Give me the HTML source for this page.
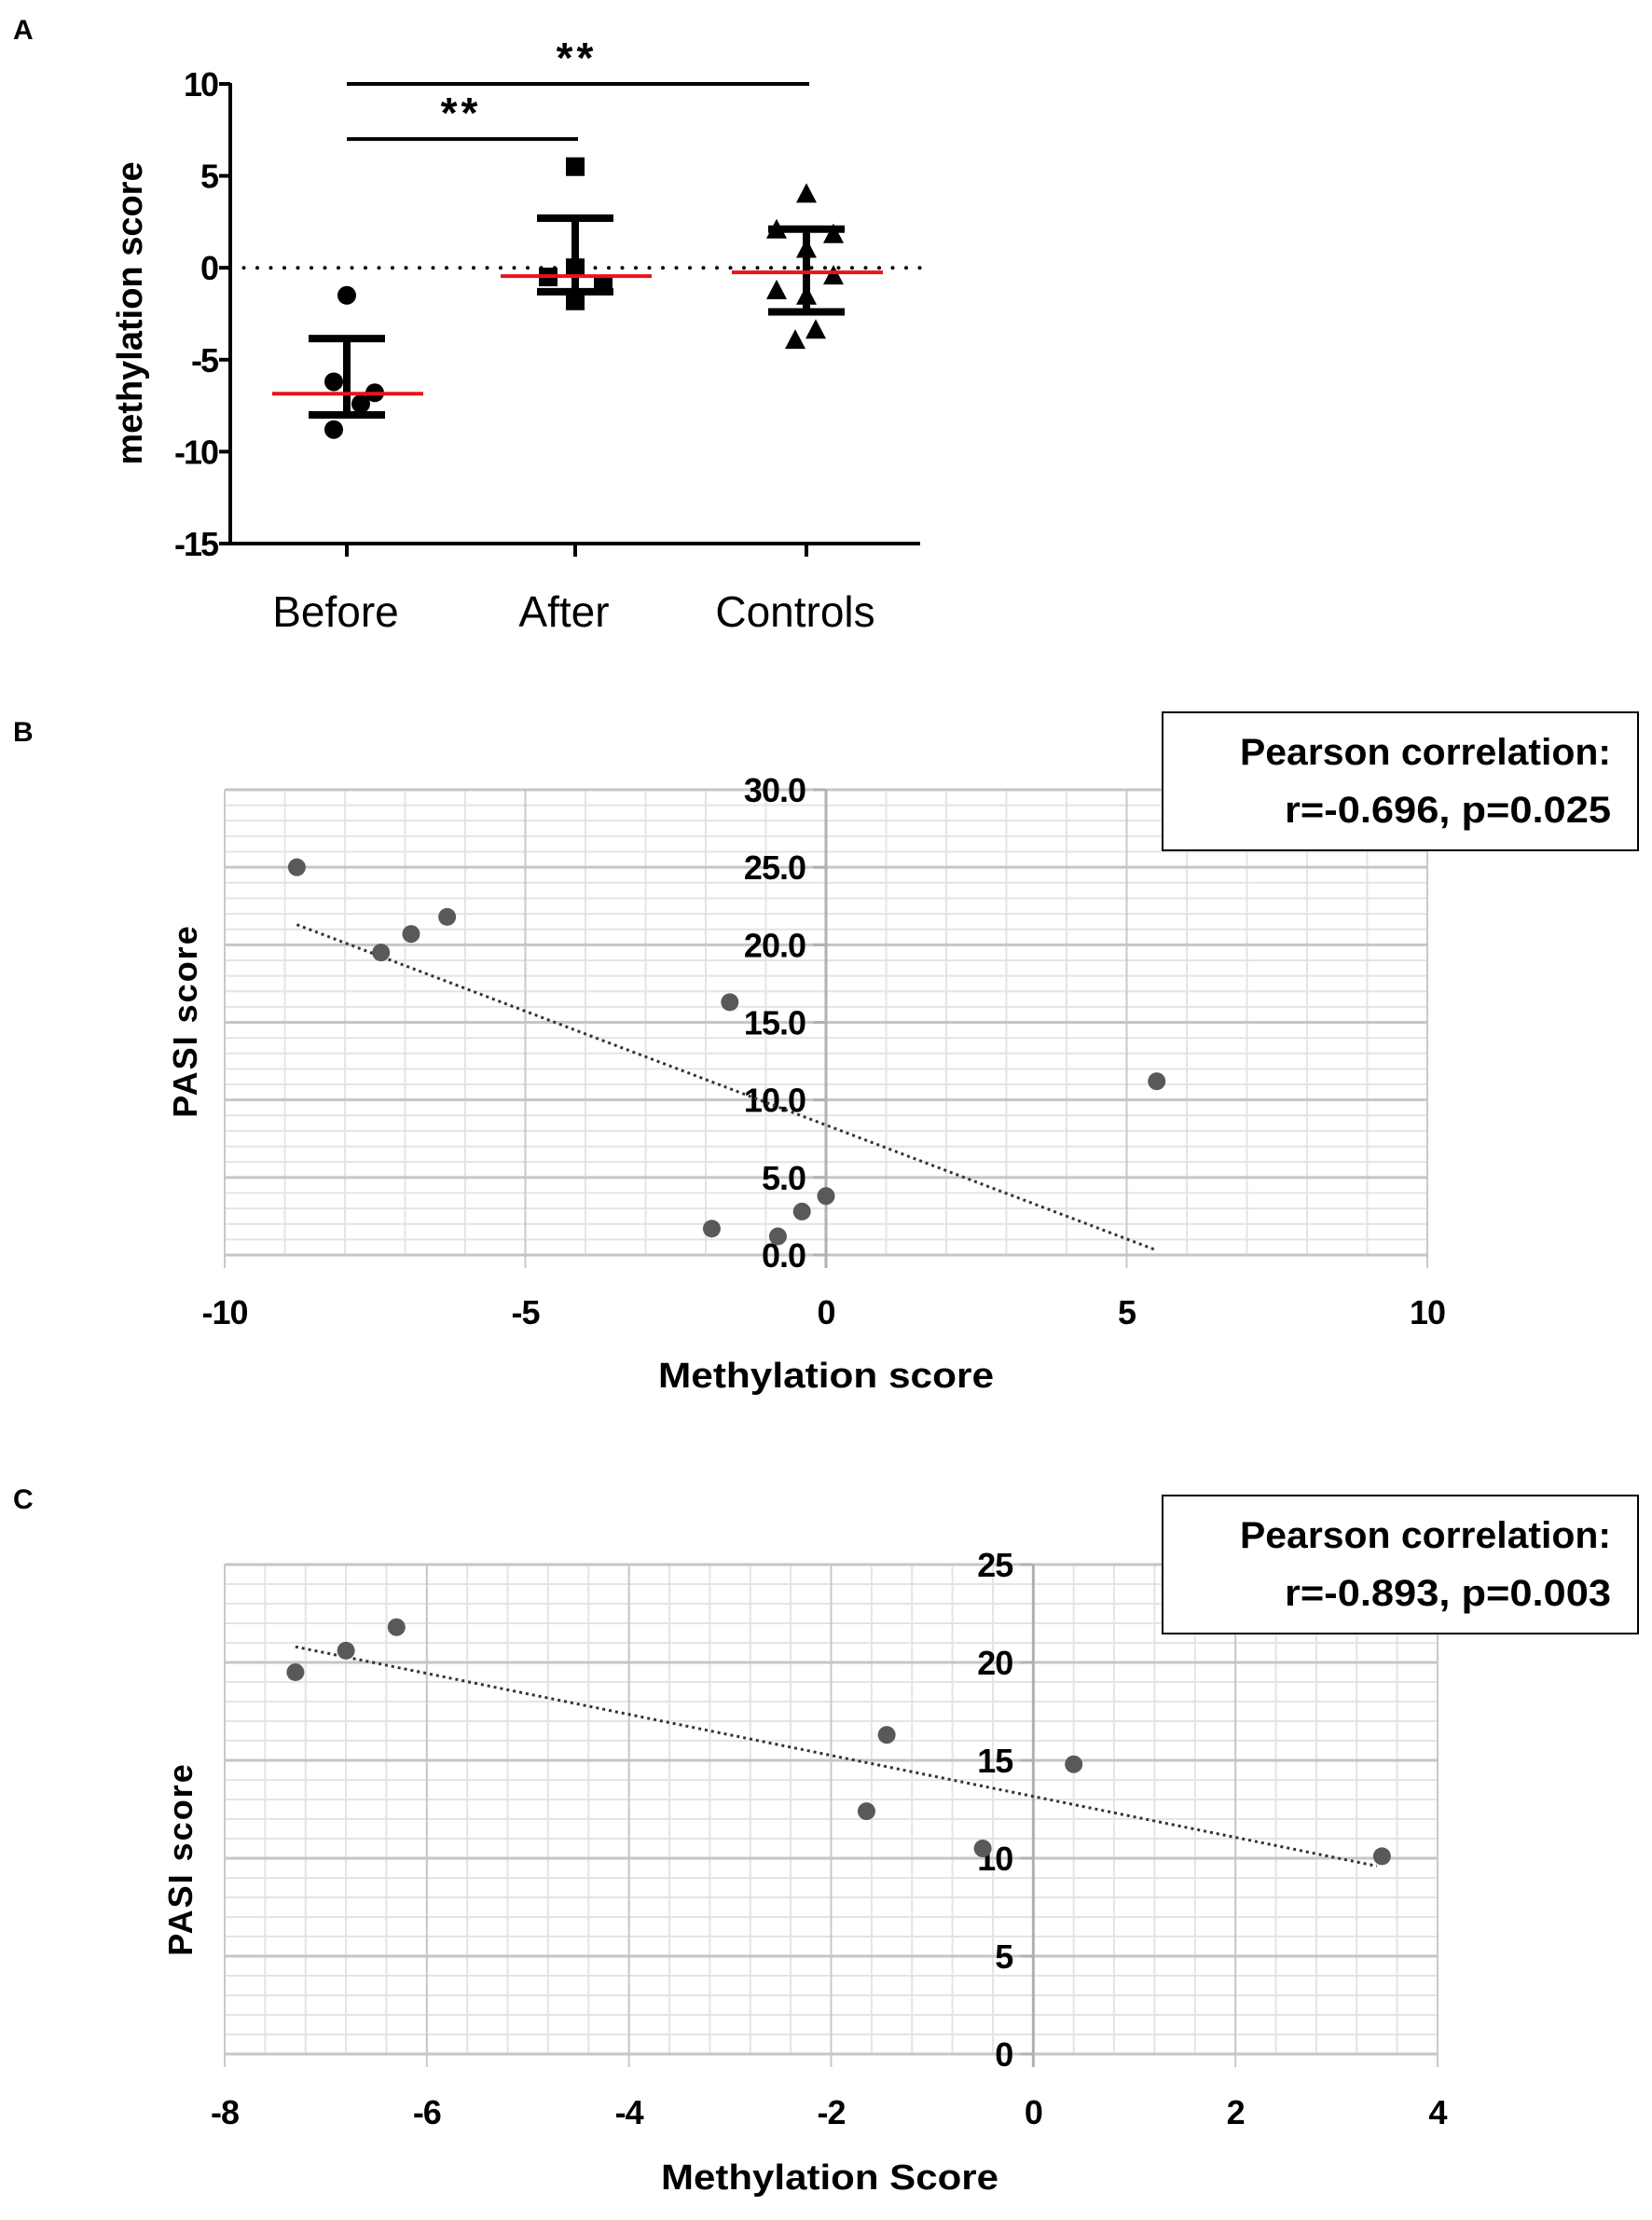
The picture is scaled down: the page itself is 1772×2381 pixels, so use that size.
<!DOCTYPE html>
<html><head><meta charset="utf-8"><style>
html,body{margin:0;padding:0;background:#fff;}
svg{display:block;}
text{font-family:"Liberation Sans",sans-serif;}
</style></head><body>
<svg id="fig" width="1772" height="2381" viewBox="0 0 1772 2381" xmlns="http://www.w3.org/2000/svg">
<rect width="1772" height="2381" fill="#fff"/>
<text x="14" y="42" font-size="30" font-weight="bold">A</text>
<text x="14" y="795" font-size="30" font-weight="bold">B</text>
<text x="14" y="1618" font-size="30" font-weight="bold">C</text>
<g id="pa"></g>
<g id="pb"></g>
<g id="pc"></g>
</svg>
<script>
// ---------- Panel A data ----------
const aGroups = ["Before","After","Controls"];
const aBefore = [-1.5,-6.2,-6.8,-7.4,-8.8];
const aBeforeOff = [0,-14,30,15,-14];
const aAfter = [5.5,-0.5,0.0,-0.9,-1.8];
const aAfterOff = [0,-29,0,30,0];
const aControls = [4.0,2.05,1.8,1.0,-0.45,-1.25,-1.55,-3.4,-3.95];
const aControlsOff = [0,-32,29,0,29,-32,0,10,-12];
const aMeans = [-6.85,-0.45,-0.25];
const aUpper = [-3.85,2.7,2.1];
const aLower = [-8.0,-1.3,-2.4];
const aTicks = [10,5,0,-5,-10,-15];
const aSig = [{from:0,to:1,y:7,label:"**"},{from:0,to:2,y:10,label:"**"}];

// ---------- Panel B data ----------
const bX = [-8.8,-7.4,-6.9,-6.3,-1.6,5.5,0.0,-0.4,-1.9,-0.8];
const bY = [25.0,19.5,20.7,21.8,16.3,11.2,3.8,2.8,1.7,1.2];
const bTrendX = [-8.8,5.5];
const bTrendY = [21.3,0.3];
const bXTicks = [-10,-5,0,5,10];
const bYTicks = ["0.0","5.0","10.0","15.0","20.0","25.0","30.0"];

// ---------- Panel C data ----------
const cX = [-7.3,-6.8,-6.3,-1.45,0.4,-1.65,-0.5,3.45];
const cY = [19.5,20.6,21.8,16.3,14.8,12.4,10.5,10.1];
const cTrendX = [-7.3,3.4];
const cTrendY = [20.8,9.6];
const cXTicks = [-8,-6,-4,-2,0,2,4];
const cYTicks = ["0","5","10","15","20","25"];

const NS="http://www.w3.org/2000/svg";
function mk(parent,tag,attrs,txt){const e=document.createElementNS(NS,tag);for(const k in attrs)e.setAttribute(k,attrs[k]);if(txt!==undefined)e.textContent=txt;parent.appendChild(e);return e;}

// ===== Panel A =====
(function(){
const g=document.getElementById('pa');
const y=v=>90+(10-v)*19.72;
const cx=[372,617,865];
const ax0=247, ax1=987;
let e;
e=mk(g,'line',{x1:ax0,y1:y(10)-1,x2:ax0,y2:y(-15)+2,stroke:'#000','stroke-width':4});


e=mk(g,'line',{x1:ax0-2,y1:y(-15),x2:ax1,y2:y(-15),stroke:'#000','stroke-width':4});


aTicks.forEach(t=>{
 mk(g,'line',{x1:ax0-12,y1:y(t),x2:ax0,y2:y(t),stroke:'#000','stroke-width':4});
 e=mk(g,'text',{x:ax0-14,y:y(t)+13,'font-size':36,'font-weight':'bold','text-anchor':'end','letter-spacing':'-2'},String(t));
 
 
});
aGroups.forEach((n,i)=>{
 mk(g,'line',{x1:cx[i],y1:y(-15),x2:cx[i],y2:y(-15)+14,stroke:'#000','stroke-width':4});
 e=mk(g,'text',{x:cx[i]-12,y:672,'font-size':46,'text-anchor':'middle'},n);
 
 
});
e=mk(g,'text',{x:0,y:0,'font-size':38,'font-weight':'bold','text-anchor':'middle',transform:'translate(152,336) rotate(-90)'},'methylation score');


e=mk(g,'line',{x1:ax0,y1:y(0),x2:ax1,y2:y(0),stroke:'#000','stroke-width':4,'stroke-dasharray':'0 14.5','stroke-linecap':'round'});


aBefore.forEach((v,i)=>{e=mk(g,'circle',{cx:cx[0]+aBeforeOff[i],cy:y(v),r:10,fill:'#000'});
 
 });
aAfter.forEach((v,i)=>{e=mk(g,'rect',{x:cx[1]+aAfterOff[i]-10,y:y(v)-10,width:20,height:20,fill:'#000'});
 
 });
aControls.forEach((v,i)=>{const px=cx[2]+aControlsOff[i],py=y(v);
 e=mk(g,'polygon',{points:`${px},${py-12} ${px+11},${py+9} ${px-11},${py+9}`,fill:'#000'});
 
 });
[0,1,2].forEach(i=>{
 e=mk(g,'path',{d:`M${cx[i]},${y(aUpper[i])}V${y(aLower[i])}M${cx[i]-41},${y(aUpper[i])}H${cx[i]+41}M${cx[i]-41},${y(aLower[i])}H${cx[i]+41}`,stroke:'#000','stroke-width':8,fill:'none'});
 
 
 e=mk(g,'line',{x1:cx[i]-80,y1:y(aMeans[i]),x2:cx[i]+82,y2:y(aMeans[i]),stroke:'#e8141a','stroke-width':4});
 
 
});
aSig.forEach(s=>{
 e=mk(g,'line',{x1:cx[s.from],y1:y(s.y),x2:cx[s.to]+3,y2:y(s.y),stroke:'#000','stroke-width':4});
 
 
 e=mk(g,'text',{x:(cx[s.from]+cx[s.to])/2,y:y(s.y)-12,'font-size':46,'font-weight':'bold','text-anchor':'middle','letter-spacing':'4'},s.label);
 
 
});
})();

// ===== Scatter helper =====
function scatter(g,o,px,py,tx,ty,xticks,yticks,pre){
 const X=v=>o.x0+(v-o.xmin)/(o.xmax-o.xmin)*(o.x1-o.x0);
 const Y=v=>o.y0-(v-o.ymin)/(o.ymax-o.ymin)*(o.y0-o.y1);
 let e;
 for(let v=o.xmin;v<=o.xmax+1e-9;v+=o.xminor){mk(g,'line',{x1:X(v),y1:Y(o.ymax),x2:X(v),y2:Y(o.ymin),stroke:'#e4e4e4','stroke-width':2});}
 for(let v=o.ymin;v<=o.ymax+1e-9;v+=o.yminor){mk(g,'line',{x1:X(o.xmin),y1:Y(v),x2:X(o.xmax),y2:Y(v),stroke:'#e4e4e4','stroke-width':2});}
 xticks.forEach(t=>{mk(g,'line',{x1:X(t),y1:Y(o.ymax),x2:X(t),y2:Y(o.ymin)+14,stroke:'#c8c8c8','stroke-width':2});});
 yticks.forEach(t=>{const v=parseFloat(t);mk(g,'line',{x1:X(o.xmin),y1:Y(v),x2:X(o.xmax),y2:Y(v),stroke:'#c6c6c6','stroke-width':3});});
 e=mk(g,'line',{x1:X(0),y1:Y(o.ymax),x2:X(0),y2:Y(o.ymin)+14,stroke:'#b0b0b0','stroke-width':3});
 
 
 yticks.forEach(t=>{const v=parseFloat(t);
  mk(g,'line',{x1:X(0)-14,y1:Y(v),x2:X(0),y2:Y(v),stroke:'#b0b0b0','stroke-width':3});
  e=mk(g,'text',{x:X(0)-22,y:Y(v)+13,'font-size':36,'font-weight':'bold','text-anchor':'end','letter-spacing':'-1'},t);
  
  
 });
 xticks.forEach(t=>{
  e=mk(g,'text',{x:X(t),y:o.xtickY,'font-size':36,'font-weight':'bold','text-anchor':'middle','letter-spacing':'-1'},String(t));
  
  
 });
 e=mk(g,'line',{x1:X(tx[0]),y1:Y(ty[0]),x2:X(tx[1]),y2:Y(ty[1]),stroke:'#333','stroke-width':3,'stroke-dasharray':'3 4'});
 
 
 px.forEach((v,i)=>{e=mk(g,'circle',{cx:X(v),cy:Y(py[i]),r:9.5,fill:'#595959'});
  
  });
 e=mk(g,'text',{x:o.titleX,y:o.titleY,'font-size':38,'font-weight':'bold','text-anchor':'middle',textLength:o.titleW,lengthAdjust:'spacingAndGlyphs'},o.xtitle);
 
 
 e=mk(g,'text',{x:0,y:0,'font-size':36,'font-weight':'bold','text-anchor':'middle','letter-spacing':'2',transform:`translate(${o.ytX},${o.ytY}) rotate(-90)`},'PASI score');
 
 
 e=mk(g,'rect',{x:1247,y:o.boxY,width:510,height:148,fill:'#fff',stroke:'#000','stroke-width':2});
 
 
 e=mk(g,'text',{x:1728,y:o.boxY+56,'font-size':40,'font-weight':'bold','text-anchor':'end',textLength:398,lengthAdjust:'spacingAndGlyphs'},'Pearson correlation:');
 
 
 e=mk(g,'text',{x:1728,y:o.boxY+118,'font-size':40,'font-weight':'bold','text-anchor':'end',textLength:350,lengthAdjust:'spacingAndGlyphs'},o.stat);
 
 
}
scatter(document.getElementById('pb'),{x0:241,x1:1531,xmin:-10,xmax:10,y0:1346,y1:847,ymin:0,ymax:30,xminor:1,yminor:1,xtickY:1420,titleX:886,titleY:1488,titleW:360,xtitle:'Methylation score',ytX:211,ytY:1095,boxY:764,stat:'r=-0.696, p=0.025'},bX,bY,bTrendX,bTrendY,bXTicks,bYTicks,'b');
scatter(document.getElementById('pc'),{x0:241,x1:1542,xmin:-8,xmax:4,y0:2203,y1:1678,ymin:0,ymax:25,xminor:0.4,yminor:1,xtickY:2278,titleX:890,titleY:2348,titleW:362,xtitle:'Methylation Score',ytX:206,ytY:1994,boxY:1604,stat:'r=-0.893, p=0.003'},cX,cY,cTrendX,cTrendY,cXTicks,cYTicks,'c');
</script>
</body></html>
